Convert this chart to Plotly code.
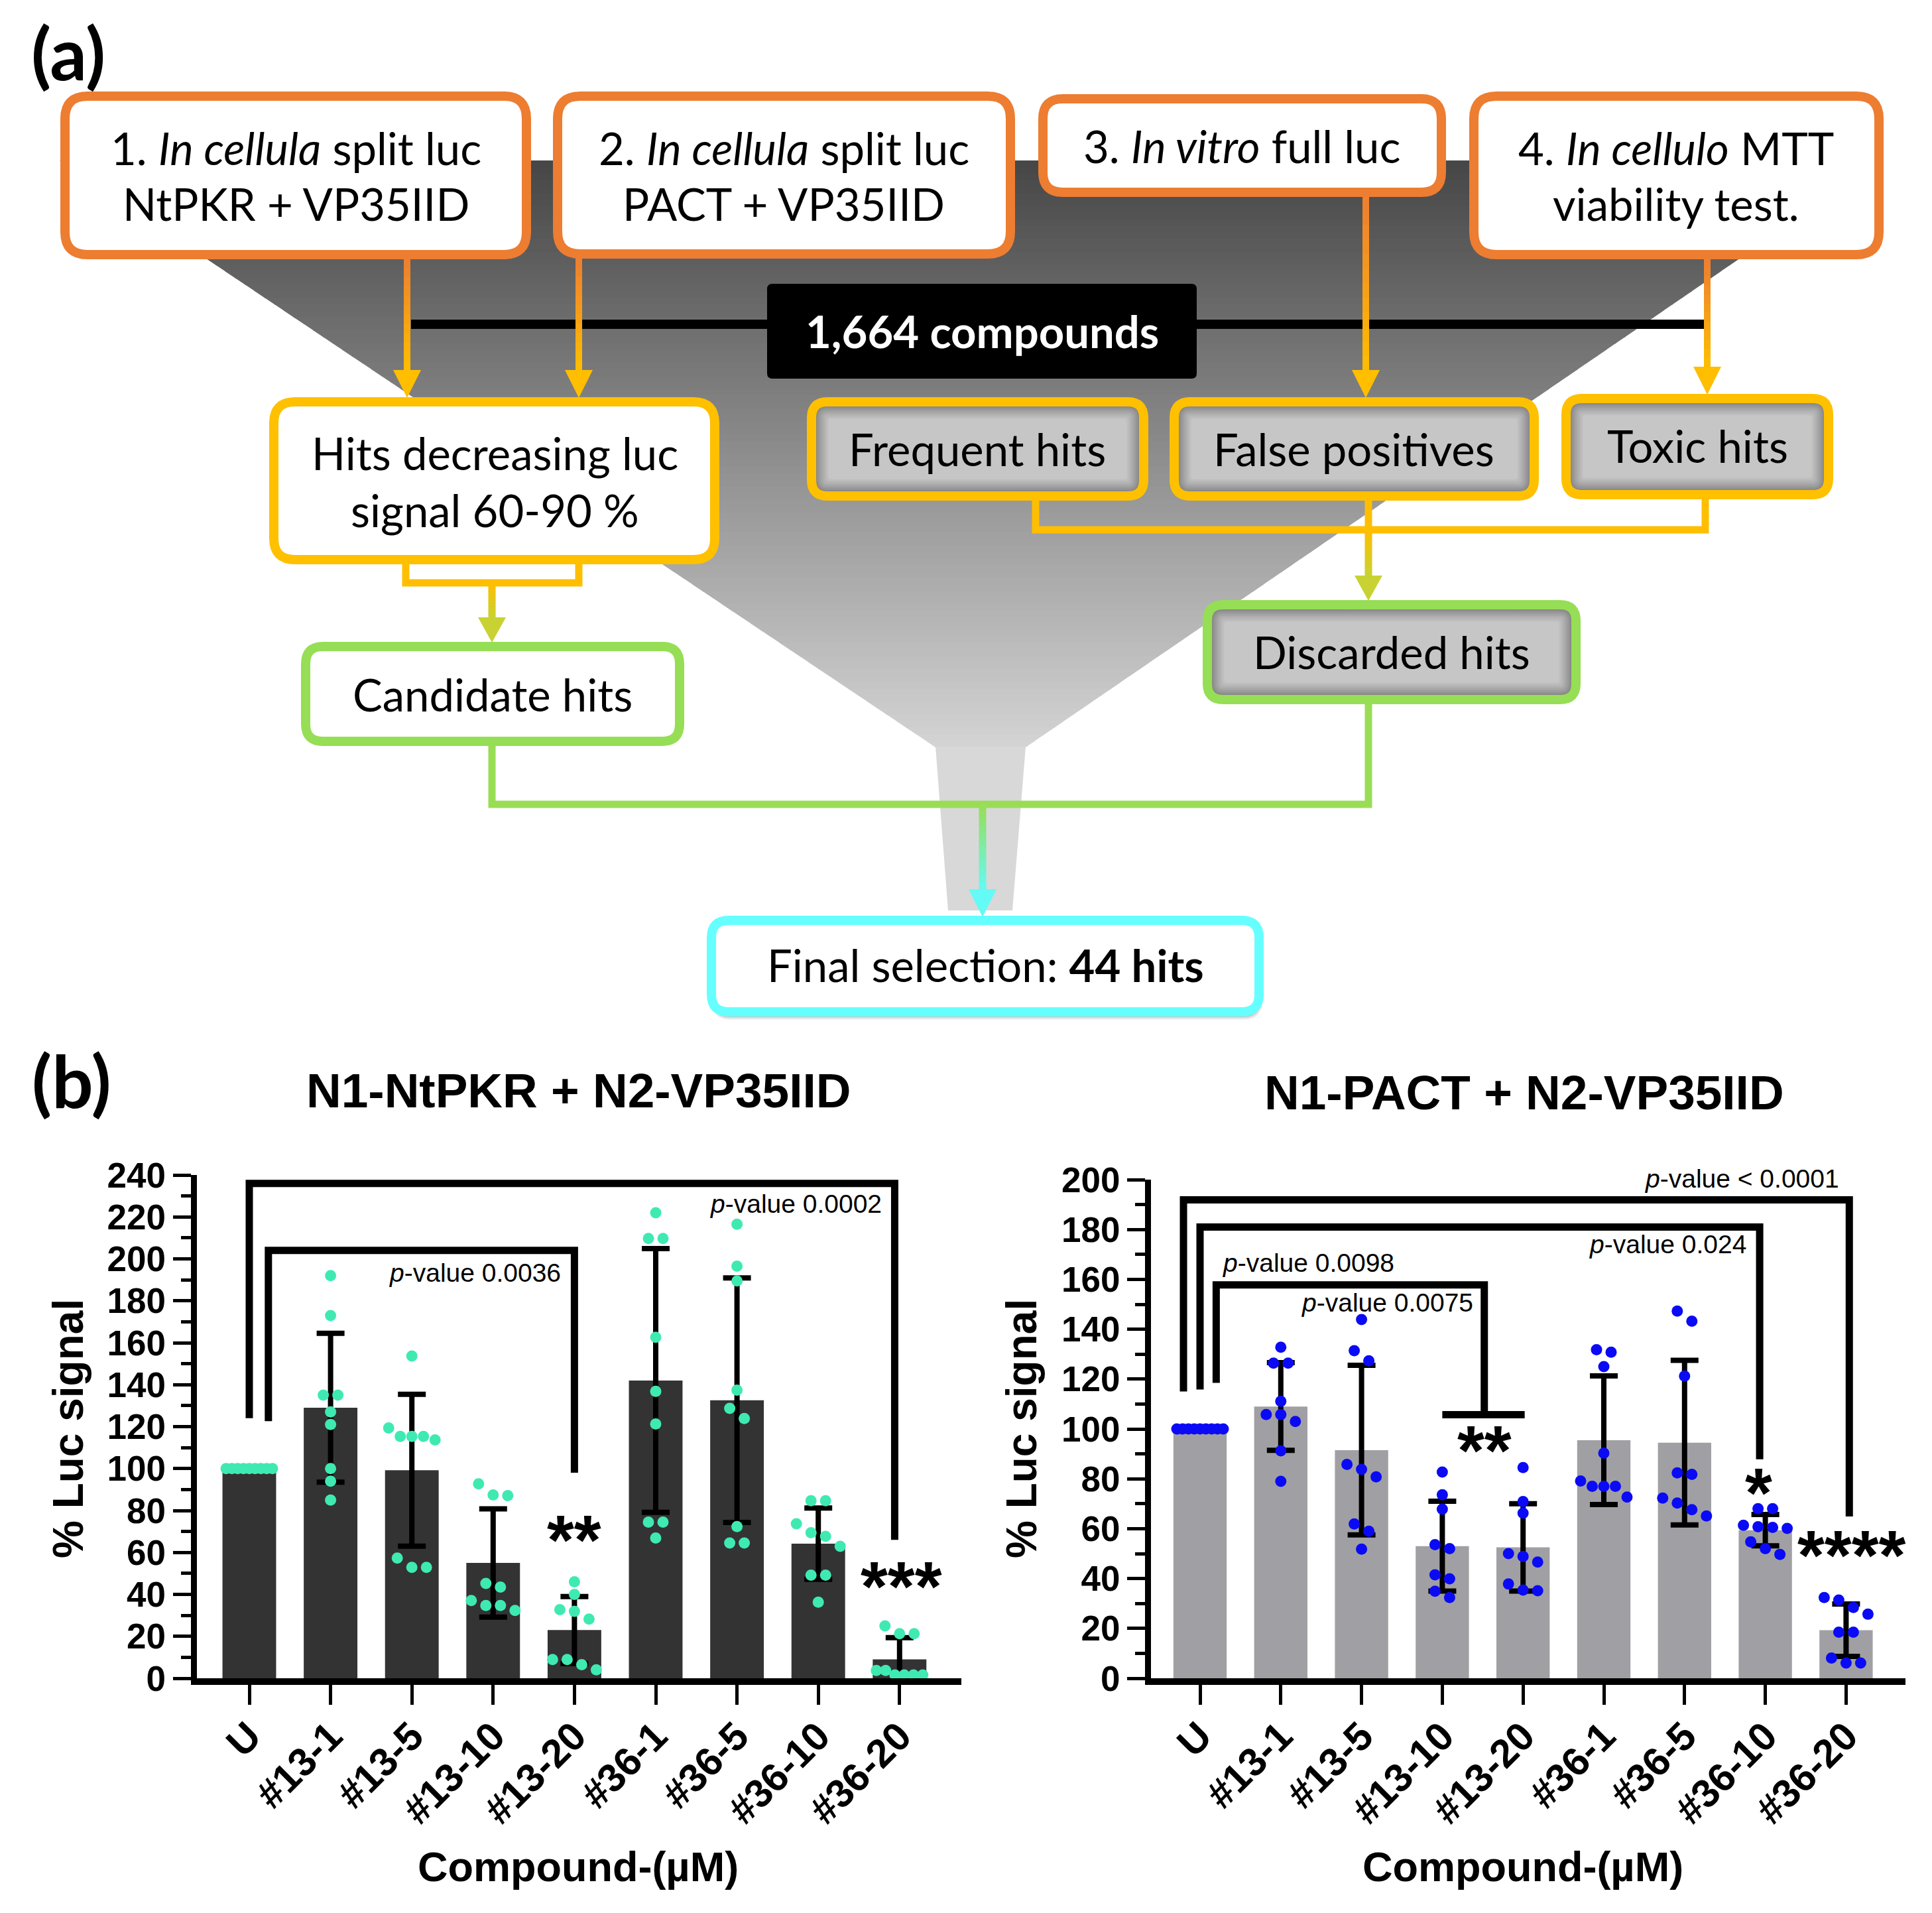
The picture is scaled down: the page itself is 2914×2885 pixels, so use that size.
import plotly.graph_objects as go

W, H = 2914, 2885

# ------------------------------------------------------------------ data
categories = ["U", "#13-1", "#13-5", "#13-10", "#13-20", "#36-1", "#36-5", "#36-10", "#36-20"]

ntpkr_mean = [100, 129, 99.2, 55, 23, 142, 132.6, 64.2, 9]
ntpkr_sd = [0, 35.5, 36.2, 25.8, 16, 62.9, 58.3, 17, 10.4]
ntpkr_points = [
    [100, 100, 100, 100, 100, 100, 100, 100, 100],
    [192, 173, 135, 135, 127, 121, 100, 94, 85],
    [153.7, 119.4, 115.3, 115.3, 115.3, 113.7, 57.3, 52.9, 52.9],
    [92.7, 87.4, 87.1, 45.2, 43.5, 37.1, 34.7, 34.7, 32.3],
    [46, 40, 32.7, 31.9, 28.2, 8.9, 8.9, 6.5, 4],
    [222, 209.7, 209.7, 162.6, 136.8, 121.3, 74.5, 74.5, 66.9],
    [216.5, 196.5, 189.5, 137.4, 128.7, 123.9, 72.3, 64.5, 64.5],
    [84.7, 84.7, 73.7, 69.4, 67.7, 62.9, 49.2, 49.2, 36.3],
    [25, 21.3, 21.3, 3.7, 3.7, 1.6, 1.6, 1.6, 1.6],
]

pact_mean = [100, 109, 91.5, 53, 52.5, 95.5, 94.5, 59.4, 19.3]
pact_sd = [0, 17.6, 34, 18, 17.5, 25.8, 33, 6.3, 10.5]
pact_points = [
    [100, 100, 100, 100, 100, 100, 100, 100, 100],
    [132.8, 126.4, 126.4, 111.1, 105.8, 105.8, 103, 91.2, 79],
    [143.9, 131.4, 127.3, 85.8, 83.8, 80.8, 61.9, 59, 51.8],
    [82.7, 73.6, 67.8, 53.6, 52, 41.5, 39.9, 34.9, 32.4],
    [84.5, 70.9, 66.2, 50, 48.9, 46.6, 37.8, 35.4, 35.1],
    [131.8, 130.8, 125, 90.3, 79.1, 77, 77, 77, 72.7],
    [147.3, 143.2, 121.2, 82.4, 81.8, 72.3, 70.3, 67.6, 65.1],
    [68, 68, 61.4, 60.8, 60.5, 60.1, 54.7, 52, 49.7],
    [32.4, 31.4, 28.4, 25.7, 18.5, 18.5, 8.1, 6.1, 6.1],
]

# significance brackets: (x_left, x_right, y_top, y_bottom_left, y_bottom_right)
ntpkr_brackets = [(0.0, 7.94, 236, 124, 66), (0.235, 4.0, 204, 122.6, 98)]
pact_brackets = [(-0.205, 8.04, 191.9, 115, 64.9), (0.0, 6.93, 181, 115.8, 87.8),
                 (0.2, 3.52, 157.8, 118.5, 105.7)]
pact_tbar = (3.0, 4.02, 105.7)

ntpkr_pvals = [("<i>p</i>-value 0.0036", 3.85, 193.5, "right", 0),
               ("<i>p</i>-value 0.0002", 7.8, 226.3, "right", 0)]
pact_pvals = [("<i>p</i>-value 0.0098", 0.26, 166.6, "left", 0),
              ("<i>p</i>-value 0.0075", 3.4, 150.7, "right", 0),
              ("<i>p</i>-value 0.024", 6.78, 174, "right", 0),
              ("<i>p</i>-value &lt; 0.0001", 7.93, 199.9, "right", 2)]
ntpkr_stars = [("**", 4.0, 69), ("***", 8.02, 47)]
pact_stars = [("**", 3.52, 94), ("*", 6.92, 77), ("****", 8.07, 52)]

ARIAL = "Liberation Sans, Arial, sans-serif"
CAL = "Lato, Carlito, sans-serif"

# ------------------------------------------------------------------ helpers (pixel -> paper)
OX, OY = -8, -9


def PX(x):
    return (x + OX) / W


def PY(y):
    return 1 - (y + OY) / H


def pt(x, y):
    return f"{PX(x):.6f},{PY(y):.6f}"


fig = go.Figure()
shapes = []
annos = []


def rr(x0, y0, x1, y1, r):
    return (f"M{pt(x0+r, y0)} L{pt(x1-r, y0)} Q{pt(x1, y0)} {pt(x1, y0+r)} L{pt(x1, y1-r)} "
            f"Q{pt(x1, y1)} {pt(x1-r, y1)} L{pt(x0+r, y1)} Q{pt(x0, y1)} {pt(x0, y1-r)} "
            f"L{pt(x0, y0+r)} Q{pt(x0, y0)} {pt(x0+r, y0)} Z")


def poly(points):
    return "M" + " L".join(pt(x, y) for x, y in points) + " Z"


def polyline(points):
    return "M" + " L".join(pt(x, y) for x, y in points)


def add_path(path, fill=None, line=None, lw=0, xref="paper", yref="paper"):
    shapes.append(dict(type="path", path=path, xref=xref, yref=yref, layer="above",
                       fillcolor=fill if fill else "rgba(0,0,0,0)",
                       line=dict(color=line if line else "rgba(0,0,0,0)", width=lw)))


def add_pline(x0, y0, x1, y1, color, lw):
    shapes.append(dict(type="line", x0=PX(x0), y0=PY(y0), x1=PX(x1), y1=PY(y1),
                       xref="paper", yref="paper", line=dict(color=color, width=lw)))


def add_dline(x0, y0, x1, y1, color, lw, xref, yref):
    shapes.append(dict(type="line", x0=x0, y0=y0, x1=x1, y1=y1, xref=xref, yref=yref,
                       line=dict(color=color, width=lw)))


def mix(c0, c1, t):
    return "rgb(%d,%d,%d)" % tuple(round(a + (b - a) * t) for a, b in zip(c0, c1))


def ptxt(x, y, s, size, family=CAL, color="black", bold=False, angle=0):
    annos.append(dict(x=PX(x), y=PY(y), xref="paper", yref="paper", text=s, showarrow=False,
                      xanchor="center", yanchor="middle", textangle=angle,
                      font=dict(family=family, size=size, color=color,
                                weight="bold" if bold else "normal")))


def dtxt(x, y, s, size, xref, yref, xanchor="center", yshift=0, bold=False):
    annos.append(dict(x=x, y=y, xref=xref, yref=yref, text=s, showarrow=False,
                      xanchor=xanchor, yanchor="middle", yshift=yshift,
                      font=dict(family=ARIAL, size=size, color="black",
                                weight="bold" if bold else "normal")))


ORANGE = (237, 125, 49)
GOLD = (255, 190, 0)
YG = (200, 210, 50)
GREEN = (153, 221, 85)
CYAN = (100, 250, 245)


def arrow(x, ya, yb, c0, c1, lw=10, head=42, hw=21, n=12):
    ys = yb - head
    for k in range(n):
        y0 = ya + (ys - ya) * k / n
        y1 = ya + (ys - ya) * (k + 1) / n + 1
        add_pline(x, y0, x, y1, mix(c0, c1, (k + 0.5) / n), lw)
    add_path(poly([(x - hw, ys), (x + hw, ys), (x, yb)]), fill=mix(c0, c1, 1.0))


# ---- funnel (gradient bands)
ft, fn, fb = 243, 1128, 1374
tl, tr = 90, 2840
nl, nr = 1411, 1547
sl, sr = 1430, 1527
nb = 90
for k in range(nb):
    ya = ft + (fn - ft) * k / nb
    yb = min(ft + (fn - ft) * (k + 1) / nb + 1.2, fn)
    fa = (ya - ft) / (fn - ft)
    fbb = (yb - ft) / (fn - ft)
    g = round(70 + (212 - 70) * (k + 0.5) / nb)
    add_path(poly([(tl + (nl - tl) * fa, ya), (tr + (nr - tr) * fa, ya),
                   (tr + (nr - tr) * fbb, yb), (tl + (nl - tl) * fbb, yb)]),
             fill=f"rgb({g},{g},{g})")
add_path(poly([(nl, fn - 1), (nr, fn - 1), (sr, fb), (sl, fb)]), fill="rgb(216,216,216)")

# ---- black line + label box
add_pline(620, 490, 2573, 490, "black", 14)
add_path(rr(1157, 429, 1805, 572, 8), fill="black")
ptxt(1481, 500, "<b>1,664 compounds</b>", 67, color="white")

# ---- orange arrows
arrow(614, 391, 601, ORANGE, GOLD)
arrow(873, 390, 601, ORANGE, GOLD)
arrow(2060, 297, 601, ORANGE, GOLD)
arrow(2575, 391, 596, ORANGE, GOLD)

# ---- yellow connectors
gold = mix(GOLD, GOLD, 0)
add_path(polyline([(612, 851), (612, 880), (873, 880), (873, 851)]), line=gold, lw=11)
arrow(742, 880, 970, GOLD, YG, lw=11, head=38)
add_path(polyline([(1562, 755), (1562, 800), (2572, 800), (2572, 753)]), line=gold, lw=11)
add_pline(2064, 755, 2064, 806, gold, 11)
arrow(2064, 800, 907, GOLD, YG, lw=11, head=38)

# ---- green connectors
green = mix(GREEN, GREEN, 0)
add_path(polyline([(742, 1125), (742, 1214), (2064, 1214), (2064, 1062)]), line=green, lw=11)
arrow(1482, 1214, 1384, GREEN, CYAN, lw=11, head=42)


def white_box(x0, y0, x1, y1, r, color, shadow=False):
    if shadow:
        for k, a in enumerate([0.06, 0.08, 0.10]):
            add_path(rr(x0 + 2, y0 + 6 + k * 2, x1 + 4 - k, y1 + 12 - k * 2, r), fill=f"rgba(0,0,0,{a})")
    add_path(rr(x0, y0, x1, y1, r), fill="white", line=color, lw=14)


def gray_box(x0, y0, x1, y1, r, color):
    n = 10
    for k in range(n):
        ins = k * 2.8
        g = round(105 + (198 - 105) * (k / (n - 1)) ** 0.75)
        add_path(rr(x0 + ins, y0 + ins, x1 - ins, y1 - ins, max(r - ins, 5)), fill=f"rgb({g},{g},{g})")
    add_path(rr(x0, y0, x1, y1, r), line=color, lw=14)


OR = "rgb(237,125,49)"
YE = "rgb(255,192,0)"
GR = "rgb(150,222,85)"
CY = "rgb(102,255,255)"

white_box(98, 146, 794, 385, 34, OR)
white_box(841, 146, 1524, 384, 34, OR)
white_box(1573, 150, 2174, 291, 30, OR)
white_box(2223, 146, 2834, 385, 34, OR)

white_box(413, 607, 1078, 845, 32, YE)
gray_box(1224, 607, 1725, 749, 24, YE)
gray_box(1771, 607, 2314, 749, 24, YE)
gray_box(2362, 602, 2758, 747, 24, YE)

white_box(461, 976, 1025, 1119, 26, GR)
gray_box(1821, 913, 2377, 1056, 24, GR)

white_box(1073, 1389, 1899, 1527, 26, CY, shadow=True)

# ---- diagram texts
BS = 67
ptxt(446, 224, "1. <i>In cellula</i> split luc", BS)
ptxt(446, 308, "NtPKR + VP35IID", BS)
ptxt(1182, 224, "2. <i>In cellula</i> split luc", BS)
ptxt(1182, 308, "PACT + VP35IID", BS)
ptxt(1873, 221, "3. <i>In vitro</i> full luc", BS)
ptxt(2528, 224, "4. <i>In cellulo</i> MTT", BS)
ptxt(2528, 308, "viability test.", BS)
ptxt(746, 684, "Hits decreasing luc", BS)
ptxt(746, 770, "signal 60-90 %", BS)
ptxt(1474, 678, "Frequent hits", BS)
ptxt(2042, 678, "False positives", BS)
ptxt(2560, 673, "Toxic hits", BS)
ptxt(743, 1048, "Candidate hits", BS)
ptxt(2099, 984, "Discarded hits", BS)
ptxt(1486, 1456, "Final selection: <b>44 hits</b>", BS)
ptxt(103, 79, "<b>(a)</b>", 110)
ptxt(108, 1629, "<b>(b)</b>", 110)

# ------------------------------------------------------------------ charts
ZERO = 2532
charts = [
    dict(ax="", x0=296.5, x1=1450, cx0=376, step=122.6, ytop=1773, ymax=240,
         mean=ntpkr_mean, sd=ntpkr_sd, pts=ntpkr_points, bar="#333333", dot="#3FEAB2",
         br=ntpkr_brackets, pv=ntpkr_pvals, st=ntpkr_stars, tbar=None,
         title="N1-NtPKR + N2-VP35IID", tx=872, ty=1645, xtx=872, ytx=103),
    dict(ax="2", x0=1736, x1=2874, cx0=1810, step=121.8, ytop=1780, ymax=200,
         mean=pact_mean, sd=pact_sd, pts=pact_points, bar="#A0A0A4", dot="#0A0AF5",
         br=pact_brackets, pv=pact_pvals, st=pact_stars, tbar=pact_tbar,
         title="N1-PACT + N2-VP35IID", tx=2299, ty=1648, xtx=2297, ytx=1541),
]


def swarm(vals, ypx, xpx, spacing=22, maxw=70, d=17):
    order = sorted(range(len(vals)), key=lambda i: -vals[i])
    rows, cur = [], [order[0]]
    for i in order[1:]:
        if (vals[cur[-1]] - vals[i]) * ypx < d:
            cur.append(i)
        else:
            rows.append(cur)
            cur = [i]
    rows.append(cur)
    offs = [0.0] * len(vals)
    for row in rows:
        n = len(row)
        s = spacing if (n - 1) * spacing <= maxw else maxw / (n - 1)
        for j, i in enumerate(row):
            offs[i] = (j - (n - 1) / 2) * s / xpx
    return offs


layout_axes = {}
for c in charts:
    xa, ya = "x" + c["ax"], "y" + c["ax"]
    xr = [(c["x0"] - c["cx0"]) / c["step"], (c["x1"] - c["cx0"]) / c["step"]]
    xpx = c["step"]
    ypx = (ZERO - c["ytop"]) / c["ymax"]
    xs = list(range(len(categories)))
    fig.add_trace(go.Bar(x=xs, y=c["mean"], width=0.66, marker=dict(color=c["bar"], line=dict(width=0)),
                         error_y=dict(type="data", array=c["sd"], color="black", thickness=8, width=21),
                         xaxis=xa, yaxis=ya, hoverinfo="skip"))
    px_, py_ = [], []
    for i, vals in enumerate(c["pts"]):
        offs = swarm(vals, ypx, xpx)
        px_ += [i + o for o in offs]
        py_ += vals
    fig.add_trace(go.Scatter(x=px_, y=py_, mode="markers", cliponaxis=False,
                             marker=dict(size=17, color=c["dot"], line=dict(width=0)),
                             xaxis=xa, yaxis=ya, hoverinfo="skip"))
    for (xl, xr_, yt, ybl, ybr) in c["br"]:
        add_path(f"M{xl},{ybl} L{xl},{yt} L{xr_},{yt} L{xr_},{ybr}", line="black", lw=11,
                 xref=xa, yref=ya)
    if c["tbar"]:
        a, b, y = c["tbar"]
        add_dline(a, y, b, y, "black", 11, xa, ya)
    for (s, x, y, anc, sh) in c["pv"]:
        dtxt(x, y, s, 39, xa, ya, xanchor=anc, yshift=sh)
    for (s, x, y) in c["st"]:
        dtxt(x, y, s, 105, xa, ya, yshift=-10, bold=True)
    ptxt(c["tx"], c["ty"], c["title"], 73, family=ARIAL, bold=True)
    ptxt(c["ytx"], 2156, "% Luc signal", 64, family=ARIAL, bold=True, angle=-90)
    ptxt(c["xtx"], 2816, "Compound-(µM)", 63, family=ARIAL, bold=True)

    layout_axes["xaxis" + c["ax"]] = dict(
        domain=[PX(c["x0"]), PX(c["x1"])], range=xr, anchor=ya,
        tickvals=xs, ticktext=categories, tickangle=-45,
        tickfont=dict(family=ARIAL, size=60, color="black", weight="bold"),
        ticklabelstandoff=-12,
        ticks="outside", ticklen=30, tickwidth=5, tickcolor="black", automargin=False,
        showline=True, linewidth=10, linecolor="black", showgrid=False, zeroline=False,
        fixedrange=True)
    layout_axes["yaxis" + c["ax"]] = dict(
        domain=[PY(ZERO), PY(c["ytop"])], range=[0, c["ymax"]], anchor=xa,
        dtick=20, tick0=0, tickfont=dict(family=ARIAL, size=53, color="black", weight="bold"),
        ticklabelstandoff=0, automargin=False,
        ticks="outside", ticklen=27, tickwidth=5, tickcolor="black",
        minor=dict(ticks="outside", dtick=10, ticklen=15, tickwidth=5, tickcolor="black"),
        showline=True, linewidth=9, linecolor="black", showgrid=False, zeroline=False,
        fixedrange=True)

fig.update_layout(
    width=W, height=H, margin=dict(l=0, r=0, t=0, b=0, pad=0, autoexpand=False),
    paper_bgcolor="white", plot_bgcolor="white", showlegend=False,
    shapes=shapes, annotations=annos, **layout_axes)

fig.write_html("out.html")
